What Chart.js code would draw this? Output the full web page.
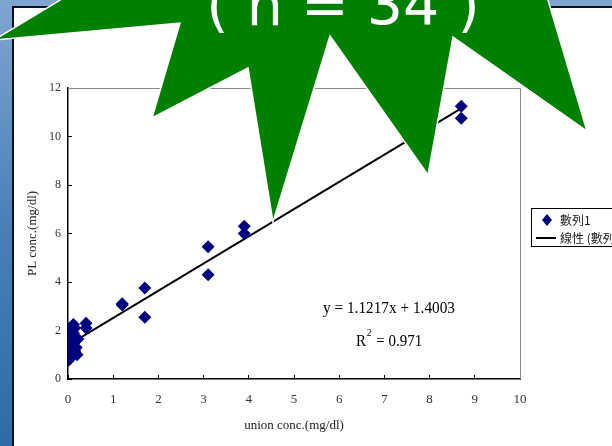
<!DOCTYPE html>
<html>
<head>
<meta charset="utf-8">
<script src="https://cdn.jsdelivr.net/npm/chart.js@4"></script>
<style>
  html, body { margin: 0; padding: 0; background: #fff; }
  #wrap { width: 612px; height: 446px; }
</style>
</head>
<body>
<div id="wrap"><canvas id="plChart" width="612" height="446"></canvas></div>
<script>
// union conc. (mg/dl) vs PL conc. (mg/dl), n = 34
const unionX = [
  8.7, 8.7, 3.9, 3.9, 3.1, 3.1, 1.7, 1.7, 1.2, 1.2, 0.4, 0.4,
  0.0, 0.05, 0.1, 0.2, 0.15, 0.02, 0.08, 0.18, 0.0, 0.1, 0.05,
  0.15, 0.22, 0.0, 0.1, 0.02, 0.12, 0.0, 0.08, 0.15, 0.12, 0.05
];
const plY = [
  11.25, 10.75, 6.3, 6.0, 5.45, 4.3, 3.75, 2.55, 3.1, 3.05, 2.3, 2.1,
  0.75, 0.85, 1.0, 1.0, 1.15, 1.2, 1.3, 1.3, 1.45, 1.45, 1.6,
  1.55, 1.65, 1.7, 1.75, 1.85, 1.9, 2.0, 2.05, 2.1, 2.25, 1.95
];
// linear trend line end points (y = 1.1217x + 1.4003)
const trendX = [0, 8.7];
const trendY = [1.40, 11.16];
const equationText = "y = 1.1217x + 1.4003";
const r2Value = "0.971";
const seriesName = "數列1";
const trendName = "線性 (數列1)";
const banner = "( n = 34 )";

const serif = "'Liberation Serif', 'DejaVu Serif', serif";
const cjk = "'Noto Sans CJK TC', 'Noto Sans CJK SC', sans-serif";

const slideBg = {
  id: "slideBg",
  beforeDraw(chart) {
    const ctx = chart.ctx;
    ctx.save();
    const g = ctx.createLinearGradient(0, 0, 0, 446);
    g.addColorStop(0, "#7fa6d0");
    g.addColorStop(0.5, "#4a80b8");
    g.addColorStop(1, "#2f6ba6");
    ctx.fillStyle = g;
    ctx.fillRect(0, 0, 612, 446);
    ctx.fillStyle = "#fff";
    ctx.fillRect(13, 7, 600, 440);
    ctx.strokeStyle = "#111";
    ctx.lineWidth = 2;
    ctx.beginPath();
    ctx.moveTo(13, 446); ctx.lineTo(13, 7); ctx.lineTo(612, 7);
    ctx.stroke();
    ctx.restore();
  },
  beforeDatasetsDraw(chart) {
    const {ctx, chartArea: a} = chart;
    ctx.save();
    ctx.strokeStyle = "#8a8a8a";
    ctx.lineWidth = 1;
    ctx.beginPath();
    ctx.moveTo(a.left, a.top + 0.5); ctx.lineTo(a.right + 0.5, a.top + 0.5); ctx.lineTo(a.right + 0.5, a.bottom);
    ctx.stroke();
    ctx.restore();
  }
};

const extras = {
  id: "extras",
  afterDraw(chart) {
    const ctx = chart.ctx;
    const ds = chart.data.datasets;
    ctx.save();

    // regression text
    ctx.fillStyle = "#000";
    ctx.textBaseline = "alphabetic";
    ctx.font = "17px " + serif;
    ctx.save();
    ctx.translate(389, 313);
    ctx.scale(0.9, 1);
    ctx.textAlign = "center";
    ctx.fillText(equationText, 0, 0);
    ctx.restore();
    ctx.save();
    ctx.translate(356, 346);
    ctx.scale(0.88, 1);
    ctx.textAlign = "left";
    ctx.fillText("R", 0, 0);
    const rw = ctx.measureText("R").width;
    ctx.font = "11px " + serif;
    ctx.fillText("2", rw + 1, -10);
    const sw = ctx.measureText("2").width;
    ctx.font = "17px " + serif;
    ctx.fillText(" = " + r2Value, rw + sw + 2, 0);
    ctx.restore();

    // legend box
    ctx.fillStyle = "#fff";
    ctx.fillRect(531, 208, 90, 39);
    ctx.strokeStyle = "#000";
    ctx.lineWidth = 1;
    ctx.strokeRect(531.5, 208.5, 90, 38);
    ctx.fillStyle = ds[0].backgroundColor;
    ctx.beginPath();
    ctx.moveTo(547, 214); ctx.lineTo(552, 220); ctx.lineTo(547, 226); ctx.lineTo(542, 220);
    ctx.closePath(); ctx.fill();
    ctx.strokeStyle = ds[1].borderColor;
    ctx.lineWidth = 2;
    ctx.beginPath(); ctx.moveTo(536, 238); ctx.lineTo(556, 238); ctx.stroke();
    ctx.fillStyle = "#222";
    ctx.font = "12px " + cjk;
    ctx.textBaseline = "middle";
    ctx.textAlign = "left";
    ctx.fillText(ds[0].label, 560, 220);
    ctx.fillText(ds[1].label, 560, 238);

    // green star banner
    const star = [[-6, 40], [180, 23], [152, 118], [248, 68], [273, 222], [330, 36],
                  [428, 175], [453, 37], [587, 131], [539, -30], [320, -80], [90, -18]];
    ctx.beginPath();
    star.forEach(([x, y], i) => i ? ctx.lineTo(x, y) : ctx.moveTo(x, y));
    ctx.closePath();
    ctx.fillStyle = "#008000";
    ctx.fill();
    ctx.strokeStyle = "#fff";
    ctx.lineWidth = 1.5;
    ctx.stroke();
    ctx.fillStyle = "#fff";
    ctx.font = "57px 'DejaVu Sans', sans-serif";
    ctx.textAlign = "center";
    ctx.textBaseline = "alphabetic";
    ctx.fillText(banner, 343, 25);
    ctx.restore();
  }
};

new Chart(document.getElementById("plChart"), {
  type: "scatter",
  data: {
    datasets: [
      {
        label: seriesName,
        data: unionX.map((x, i) => ({x, y: plY[i]})),
        backgroundColor: "#000080",
        borderColor: "#000080",
        pointStyle: "rectRot",
        pointRadius: 6.5,
        borderWidth: 0,
        order: 1
      },
      {
        label: trendName,
        data: trendX.map((x, i) => ({x, y: trendY[i]})),
        showLine: true,
        borderColor: "#000",
        borderWidth: 2,
        pointRadius: 0,
        order: 2
      }
    ]
  },
  options: {
    responsive: false,
    animation: false,
    layout: { padding: { left: 0, top: 88, right: 92, bottom: 0 } },
    plugins: { legend: { display: false }, tooltip: { enabled: false } },
    scales: {
      x: {
        type: "linear", min: 0, max: 10,
        afterFit: s => { s.height = 67; },
        border: { color: "#000", width: 1.5 },
        grid: { drawOnChartArea: false, drawTicks: true, tickLength: -4, color: "#000" },
        ticks: { stepSize: 1, color: "#333", padding: 17, font: { family: serif, size: 13 } },
        title: { display: true, text: "union conc.(mg/dl)", color: "#222",
                 font: { family: serif, size: 13 }, padding: { top: 0, bottom: 13 } }
      },
      y: {
        type: "linear", min: 0, max: 12,
        afterFit: s => { s.width = 68; },
        border: { color: "#000", width: 1.5 },
        grid: { drawOnChartArea: false, drawTicks: true, tickLength: -4, color: "#000" },
        ticks: { stepSize: 2, color: "#333", padding: 11, font: { family: serif, size: 12 } },
        title: { display: true, text: "PL conc.(mg/dl)", color: "#222",
                 font: { family: serif, size: 13 }, padding: { top: 25, bottom: 0 } }
      }
    }
  },
  plugins: [slideBg, extras]
});
</script>
</body>
</html>
